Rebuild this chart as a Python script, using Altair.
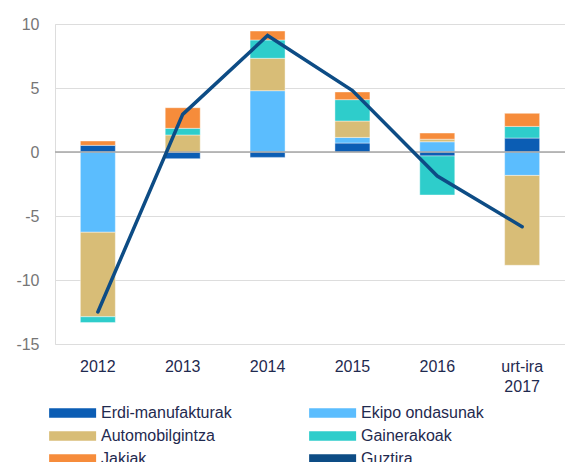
import altair as alt
import pandas as pd

categories = ["2012", "2013", "2014", "2015", "2016", "urt-ira 2017"]
series_names = ["Erdi-manufakturak", "Ekipo ondasunak", "Automobilgintza", "Gainerakoak", "Jakiak"]
erdi = [0.52, -0.52, -0.42, 0.70, -0.31, 1.09]
ekipo = [-6.27, 0.0, 4.79, 0.44, 0.80, -1.83]
automobil = [-6.60, 1.33, 2.53, 1.28, 0.20, -7.02]
gainerakoak = [-0.46, 0.52, 1.43, 1.67, -3.05, 0.91]
jakiak = [0.34, 1.61, 0.70, 0.60, 0.48, 1.02]
guztira = [-12.5, 2.94, 9.1, 4.8, -1.88, -5.84]
colors = ["#0B5DB4", "#5BBDFE", "#D8BD77", "#2ECDCB", "#F68C3B", "#0D4C85"]

rows = []
for i, (name, vals) in enumerate(zip(series_names, [erdi, ekipo, automobil, gainerakoak, jakiak])):
    for c, v in zip(categories, vals):
        rows.append({"cat": c, "series": name, "value": v, "idx": i})
bars_df = pd.DataFrame(rows)
line_df = pd.DataFrame({"cat": categories, "value": guztira, "series": "Guztira"})

font = "Liberation Sans"
navy_text = "#1F2A4F"
domain = series_names + ["Guztira"]

color_scale = alt.Scale(domain=domain, range=colors)
x_enc = alt.X("cat:N", sort=categories, title=None,
              scale=alt.Scale(paddingInner=0.59, paddingOuter=0.3),
              axis=alt.Axis(labelAngle=0, domain=False, ticks=False, labelPadding=14,
                            labelFontSize=16, labelColor=navy_text, labelFont=font,
                            labelLineHeight=20,
                            labelExpr="datum.value == 'urt-ira 2017' ? ['urt-ira', '2017'] : datum.label"))
y_scale = alt.Scale(domain=[-15, 10], nice=False)

rect_wide = "M-1,-0.8H7V0.8H-1Z"

legend = alt.Legend(
    title=None, orient="none", direction="horizontal", legendX=-8, legendY=381,
    columns=2, columnPadding=75,
    rowPadding=7, symbolType=rect_wide, symbolSize=138, symbolStrokeWidth=0,
    labelFontSize=16, labelFont=font, labelColor=navy_text, labelOffset=38, labelLimit=300,
    padding=0,
)

bars = alt.Chart(bars_df).mark_bar(size=35, stroke="white", strokeWidth=0.6, strokeOpacity=0.7).encode(
    x=x_enc,
    y=alt.Y("value:Q", scale=y_scale, title=None,
            axis=alt.Axis(values=[-15, -10, -5, 0, 5, 10], domain=False, ticks=False,
                          labelFontSize=16, labelFont=font, labelColor="#767676", labelPadding=16,
                          labelExpr="toString(datum.value)",
                          gridColor="#DDDDDD", gridWidth=1)),
    color=alt.Color("series:N", scale=color_scale, legend=legend),
    order=alt.Order("idx:Q", sort="ascending"),
)

zero = alt.Chart(pd.DataFrame({"z": [0]})).mark_rule(color="#A6A6A6", strokeWidth=1.5).encode(
    y=alt.Y("z:Q", scale=y_scale)
)

line = alt.Chart(line_df).mark_line(strokeWidth=3.5, strokeCap="round", strokeJoin="miter").encode(
    x=alt.X("cat:N", sort=categories),
    y=alt.Y("value:Q", scale=y_scale),
    color=alt.Color("series:N", scale=color_scale, legend=legend),
)

chart = alt.layer(bars, zero, line).properties(
    width=510, height=320,
    autosize=alt.AutoSizeParams(type="none"),
    padding={"left": 47, "top": 16, "right": 0, "bottom": 122},
).configure_view(stroke=None).configure(background="white")

chart.save("out.html", embed_options={"renderer": "svg", "actions": False})
